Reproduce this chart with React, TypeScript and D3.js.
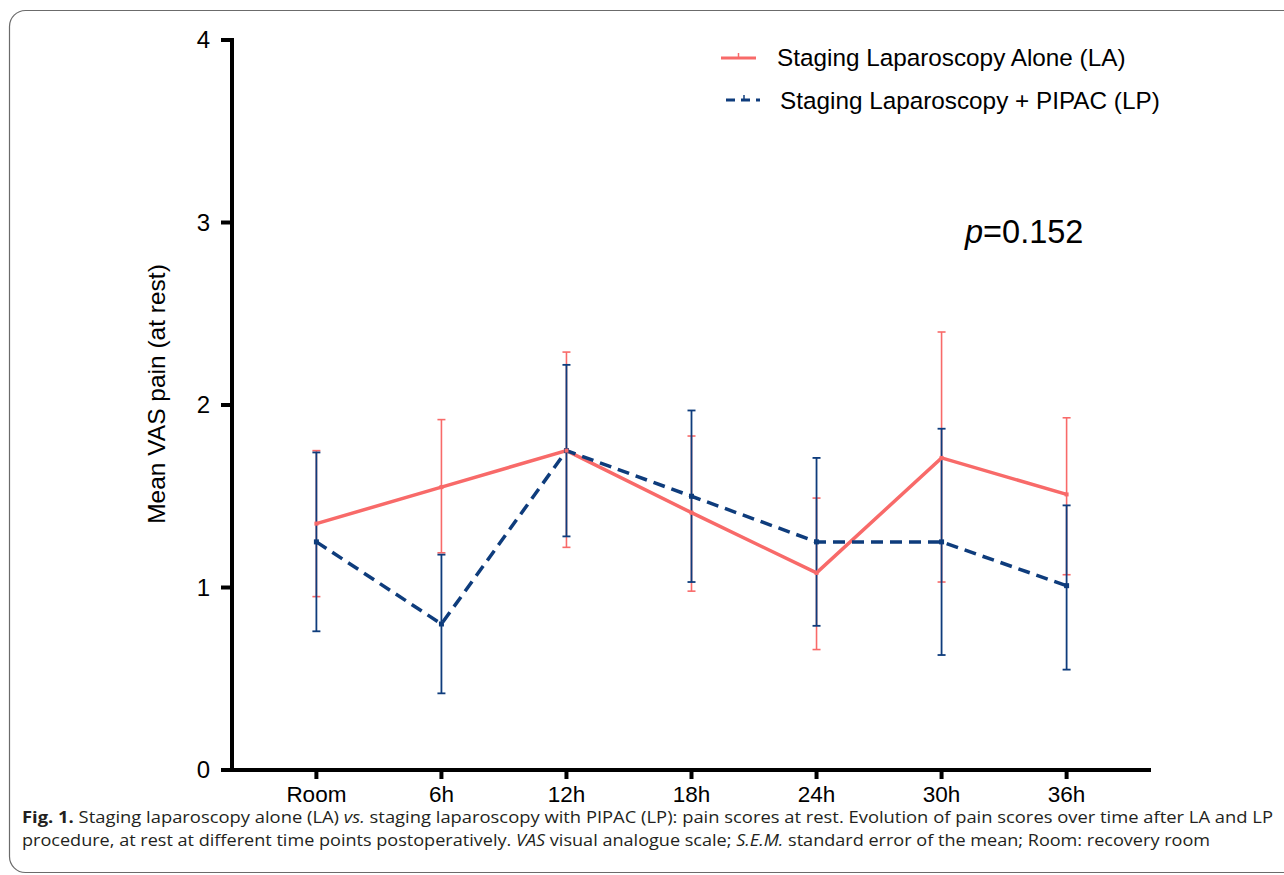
import React from 'react';
import * as d3 from 'd3';

const categories = ['Room', '6h', '12h', '18h', '24h', '30h', '36h'];
const yTicks = [0, 1, 2, 3, 4];

// Staging laparoscopy alone (LA): mean and error bar ends
const laMean = [1.35, 1.55, 1.75, 1.41, 1.08, 1.71, 1.51];
const laUpper = [1.75, 1.92, 2.29, 1.83, 1.49, 2.40, 1.93];
const laLower = [0.95, 1.19, 1.22, 0.98, 0.66, 1.03, 1.07];

// Staging laparoscopy + PIPAC (LP)
const lpMean = [1.25, 0.80, 1.75, 1.50, 1.25, 1.25, 1.01];
const lpUpper = [1.74, 1.18, 2.22, 1.97, 1.71, 1.87, 1.45];
const lpLower = [0.76, 0.42, 1.28, 1.03, 0.79, 0.63, 0.55];

const RED = '#f86a69';
const BLUE = '#0e3c7c';
const ARIAL = 'Liberation Sans, Arial, sans-serif';
const CAP = '"Open Sans", "Noto Sans", sans-serif';

const App = () => {
  const W = 1284, H = 875;
  const x = d3.scalePoint<string>().domain(categories).range([232, 1151]).padding(0.675);
  const y = d3.scaleLinear().domain([0, 4]).range([770, 40]);

  const line = d3.line<number>()
    .x((_, i) => x(categories[i]) as number)
    .y(d => y(d));

  const errBars = (mean: number[], up: number[], lo: number[], color: string, w: number, key: string) =>
    mean.map((_, i) => {
      const cx = x(categories[i]) as number;
      return (
        <g key={key + i} stroke={color} strokeWidth={w}>
          <line x1={cx} x2={cx} y1={y(up[i])} y2={y(lo[i])} />
          <line x1={cx - 4} x2={cx + 4} y1={y(up[i])} y2={y(up[i])} />
          <line x1={cx - 4} x2={cx + 4} y1={y(lo[i])} y2={y(lo[i])} />
        </g>
      );
    });

  return (
    <svg width={W} height={H} style={{ position: 'absolute', left: 0, top: 0, background: '#fff' }}>
      <rect x={9.5} y={10.5} width={1400} height={862} rx={16} fill="none" stroke="#6b6b6b" strokeWidth={1.2} />

      {/* error bars */}
      {errBars(laMean, laUpper, laLower, RED, 1.6, 'la')}
      {errBars(lpMean, lpUpper, lpLower, BLUE, 1.8, 'lp')}

      {/* lines */}
      <path d={line(laMean) || ''} fill="none" stroke={RED} strokeWidth={3.5} strokeLinejoin="miter" />
      <path d={line(lpMean) || ''} fill="none" stroke={BLUE} strokeWidth={3.5} strokeDasharray="12 7" />
      {lpMean.map((v, i) => (
        <rect key={'m' + i} x={(x(categories[i]) as number) - 2.5} y={y(v) - 2.5} width={5} height={5} fill={BLUE} />
      ))}
      {laMean.map((v, i) => (
        <rect key={'n' + i} x={(x(categories[i]) as number) - 2} y={y(v) - 2} width={4} height={4} fill={RED} />
      ))}

      {/* axes */}
      <g stroke="#000" strokeWidth={4}>
        <line x1={232} x2={232} y1={38} y2={772} />
        <line x1={230} x2={1151} y1={770} y2={770} />
        {yTicks.map(t => (
          <line key={'yt' + t} x1={221} x2={232} y1={y(t)} y2={y(t)} />
        ))}
        {categories.map(c => (
          <line key={'xt' + c} x1={x(c) as number} x2={x(c) as number} y1={770} y2={779} />
        ))}
      </g>
      {yTicks.map(t => (
        <text key={'yl' + t} x={210} y={y(t) + 8} textAnchor="end" fontFamily={ARIAL} fontSize={24} fill="#000">{t}</text>
      ))}
      {categories.map(c => (
        <text key={'xl' + c} x={x(c) as number} y={802} textAnchor="middle" fontFamily={ARIAL} fontSize={22.5} fill="#000">{c}</text>
      ))}
      <text transform="translate(165,394) rotate(-90)" textAnchor="middle" fontFamily={ARIAL} fontSize={24.5} fill="#000">
        Mean VAS pain (at rest)
      </text>

      {/* legend */}
      <line x1={721} x2={756} y1={58} y2={58} stroke={RED} strokeWidth={3} />
      <line x1={738.5} x2={738.5} y1={53} y2={58} stroke={RED} strokeWidth={1.5} />
      <text x={777} y={66} fontFamily={ARIAL} fontSize={24.3} fill="#000">Staging Laparoscopy Alone (LA)</text>
      <line x1={726} x2={760} y1={100} y2={100} stroke={BLUE} strokeWidth={3} strokeDasharray="9 6" />
      <line x1={744} x2={744} y1={95} y2={100} stroke={BLUE} strokeWidth={1.5} />
      <text x={780} y={109} fontFamily={ARIAL} fontSize={24.3} fill="#000">Staging Laparoscopy + PIPAC (LP)</text>

      <text x={965} y={243} fontFamily={ARIAL} fontSize={32.5} fill="#000">
        <tspan fontStyle="italic">p</tspan>=0.152
      </text>

      {/* caption */}
      <text x={22} y={823} fontFamily={CAP} fontSize={15.5} fill="#231f20" textLength={1251} lengthAdjust="spacingAndGlyphs">
        <tspan fontWeight="bold">Fig. 1.</tspan>{'  Staging laparoscopy alone (LA) '}
        <tspan fontStyle="italic">vs.</tspan>
        {' staging laparoscopy with PIPAC (LP): pain scores at rest. Evolution of pain scores over time after LA and LP'}
      </text>
      <text x={22} y={846} fontFamily={CAP} fontSize={15.5} fill="#231f20" textLength={1188} lengthAdjust="spacingAndGlyphs">
        {'procedure, at rest at different time points postoperatively. '}
        <tspan fontStyle="italic">VAS</tspan>
        {' visual analogue scale; '}
        <tspan fontStyle="italic">S.E.M.</tspan>
        {' standard error of the mean; Room: recovery room'}
      </text>
    </svg>
  );
};

export default App;
